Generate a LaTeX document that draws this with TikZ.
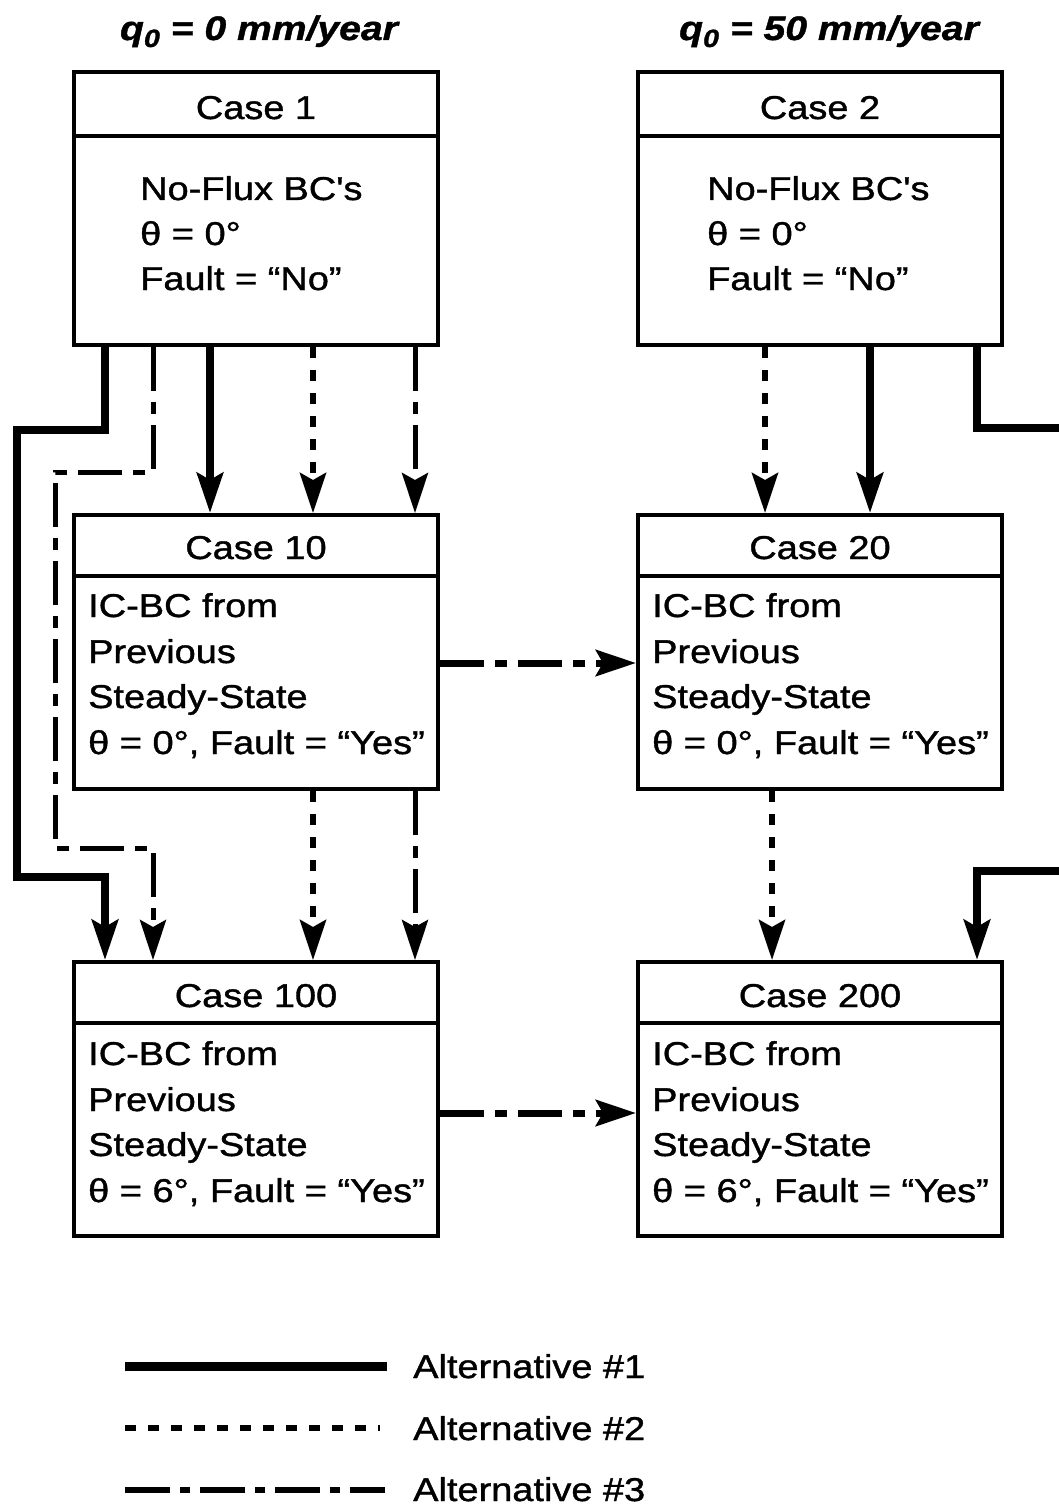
\documentclass[tikz,border=0pt]{standalone}
\usepackage{fontspec}
\setmainfont{Liberation Sans}[FakeStretch=1.15,FakeBold=1.2]
\newfontfamily\plainf{Liberation Sans}[FakeStretch=1.15,FakeBold=1.2]
\usetikzlibrary{arrows.meta}
\newcommand{\sq}{{\plainf '}}
\begin{document}
\begin{tikzpicture}[x=1pt,y=-1pt,
  box/.style={draw, line width=4pt, inner sep=0pt, minimum width=364pt, minimum height=274pt},
  divider/.style={line width=4pt},
  txt/.style={inner sep=0pt, anchor=base west, font=\fontsize{33}{33}\selectfont},
  ttl/.style={inner sep=0pt, anchor=base, font=\fontsize{33}{33}\selectfont},
  head/.style={inner sep=0pt, anchor=base, font=\fontsize{34}{34}\selectfont\bfseries\itshape},
  tip/.style={-{Stealth[length=40pt,width=26pt,inset=7pt]}},
  altone/.style={line width=8pt},
  alttwo/.style={line width=6pt, dash pattern=on 11pt off 12pt},
  altthree/.style={line width=5pt, dash pattern=on 44pt off 11pt on 12pt off 11pt},
]
\useasboundingbox (0,0) rectangle (1058,1506);

% headings
\node[head] (h1) at (259,40) {q\raisebox{-7pt}{\fontsize{25}{25}\selectfont 0} = 0 mm/year};
\node[head] (h2) at (829,40) {q\raisebox{-7pt}{\fontsize{25}{25}\selectfont 0} = 50 mm/year};

% boxes
\node[box, minimum height=273pt] (c1) at (256,208.5) {};
\node[box, minimum height=273pt] (c2) at (820,208.5) {};
\node[box] (c10) at (256,652) {};
\node[box] (c20) at (820,652) {};
\node[box] (c100) at (256,1099) {};
\node[box] (c200) at (820,1099) {};

\foreach \n in {c1,c2}{\draw[divider] ([yshift=-66pt]\n.north west) -- ([yshift=-66pt]\n.north east);}
\foreach \n in {c10,c20,c100,c200}{\draw[divider] ([yshift=-63pt]\n.north west) -- ([yshift=-63pt]\n.north east);}

% titles
\node[ttl] (t1) at (256,119) {Case 1};
\node[ttl] (t2) at (820,119) {Case 2};
\node[ttl] (t10) at (256,559) {Case 10};
\node[ttl] (t20) at (820,559) {Case 20};
\node[ttl] (t100) at (256,1007) {Case 100};
\node[ttl] (t200) at (820,1007) {Case 200};

% body texts
\node[txt] (b1a) at (140,200) {No-Flux BC\sq s};
\node[txt] (b1b) at (140,245) {θ = 0°};
\node[txt] (b1c) at (140,290) {Fault = “No”};
\node[txt] (b2a) at (707,200) {No-Flux BC\sq s};
\node[txt] (b2b) at (707,245) {θ = 0°};
\node[txt] (b2c) at (707,290) {Fault = “No”};

\node[txt] (b10a) at (88,617) {IC-BC from};
\node[txt] (b10b) at (88,663) {Previous};
\node[txt] (b10c) at (88,708) {Steady-State};
\node[txt] (b10d) at (88,754) {θ = 0°, Fault = “Yes”};
\node[txt] (b20a) at (652,617) {IC-BC from};
\node[txt] (b20b) at (652,663) {Previous};
\node[txt] (b20c) at (652,708) {Steady-State};
\node[txt] (b20d) at (652,754) {θ = 0°, Fault = “Yes”};

\node[txt] (b100a) at (88,1065) {IC-BC from};
\node[txt] (b100b) at (88,1111) {Previous};
\node[txt] (b100c) at (88,1156) {Steady-State};
\node[txt] (b100d) at (88,1202) {θ = 6°, Fault = “Yes”};
\node[txt] (b200a) at (652,1065) {IC-BC from};
\node[txt] (b200b) at (652,1111) {Previous};
\node[txt] (b200c) at (652,1156) {Steady-State};
\node[txt] (b200d) at (652,1202) {θ = 6°, Fault = “Yes”};

% bend coordinates
\coordinate (lA) at (17,430);
\coordinate (lB) at (17,877);
\coordinate (dA) at (55,472);
\coordinate (dB) at (55,848);
\coordinate (rA) at (1064,428);
\coordinate (rB) at (1064,871);

% Case 1 -> Case 10
\draw[altone,tip] ([xshift=-46pt]c1.south) -- ([xshift=-46pt]c10.north);
\draw[alttwo,tip] ([xshift=57pt]c1.south) -- ([xshift=57pt]c10.north);
\draw[altthree,tip] ([xshift=159pt]c1.south) -- ([xshift=159pt]c10.north);
% Case 1 -> Case 100
\draw[altone,tip] ([xshift=-151pt]c1.south) |- (lA) -- (lB) -| ([xshift=-151pt]c100.north);
\draw[altthree,tip] ([xshift=-103pt]c1.south) |- (dA) -- (dB) -| ([xshift=-103pt]c100.north);
% Case 10 -> Case 100
\draw[alttwo,tip] ([xshift=57pt]c10.south) -- ([xshift=57pt]c100.north);
\draw[altthree,tip] ([xshift=159pt]c10.south) -- ([xshift=159pt]c100.north);
% horizontals
\draw[altthree,tip,line width=7pt] ([yshift=-11pt]c10.east) -- ([yshift=-11pt]c20.west);
\draw[altthree,tip,line width=7pt] ([yshift=-14pt]c100.east) -- ([yshift=-14pt]c200.west);
% Case 2 -> Case 20
\draw[alttwo,tip] ([xshift=-55pt]c2.south) -- ([xshift=-55pt]c20.north);
\draw[altone,tip] ([xshift=50pt]c2.south) -- ([xshift=50pt]c20.north);
% Case 2 -> Case 200
\draw[altone,tip] ([xshift=157pt]c2.south) |- (rA) -- (rB) -| ([xshift=157pt]c200.north);
% Case 20 -> Case 200
\draw[alttwo,tip] ([xshift=-48pt]c20.south) -- ([xshift=-48pt]c200.north);

% legend
\draw[altone,line width=9pt] (125,1366) -- (387,1366);
\draw[alttwo] (125,1428) -- (380,1428);
\draw[altthree,line width=6pt,dash pattern=on 45pt off 10pt on 10pt off 10pt] (125,1490) -- (385,1490);
\node[txt] (l1) at (413,1378) {Alternative \#1};
\node[txt] (l2) at (413,1440) {Alternative \#2};
\node[txt] (l3) at (413,1501) {Alternative \#3};
\end{tikzpicture}
\end{document}
